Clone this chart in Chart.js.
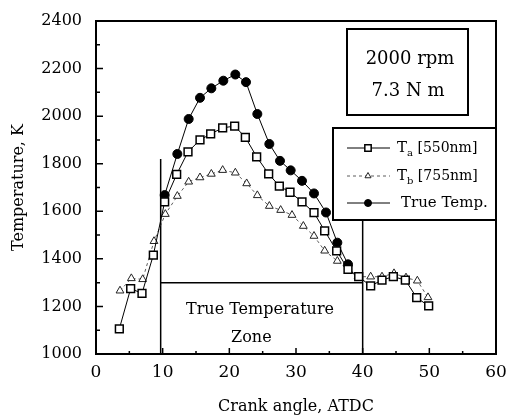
<!DOCTYPE html>
<html>
<head>
<meta charset="utf-8">
<script src="https://cdn.jsdelivr.net/npm/chart.js@4"></script>
<style>
  html, body { margin: 0; padding: 0; background: #fff; }
  #wrap { width: 507px; height: 419px; }
</style>
</head>
<body>
<div id="wrap"><canvas id="tempChart"></canvas></div>
<script>
// Crank angle (deg ATDC) and temperature (K)
const taAngle = [3.5, 5.2, 6.9, 8.6, 10.3, 12.1, 13.8, 15.6, 17.2, 19.0, 20.8, 22.4, 24.1, 25.9,
                 27.5, 29.1, 30.9, 32.7, 34.3, 36.1, 37.8, 39.4, 41.2, 42.9, 44.6, 46.4, 48.1, 49.9];
const taTemp = [1106, 1275, 1255, 1416, 1640, 1755, 1850, 1900, 1925, 1951, 1958, 1911, 1829, 1757,
                1706, 1680, 1640, 1594, 1518, 1434, 1356, 1325, 1286, 1311, 1325, 1311, 1237, 1202];

const tbAngle = [3.6, 5.3, 7.0, 8.7, 10.4, 12.2, 13.9, 15.6, 17.3, 19.0, 20.9, 22.6, 24.2, 26.0,
                 27.7, 29.4, 31.1, 32.7, 34.3, 36.2, 37.9, 39.3, 41.2, 42.9, 44.7, 46.5, 48.2, 49.8];
const tbTemp = [1266, 1318, 1314, 1474, 1588, 1664, 1724, 1742, 1757, 1773, 1762, 1717, 1667, 1622,
                1605, 1584, 1538, 1496, 1434, 1391, 1350, 1325, 1325, 1325, 1339, 1321, 1308, 1238];

const trueAngle = [10.3, 12.2, 13.9, 15.6, 17.3, 19.1, 20.9, 22.5, 24.2, 26.0, 27.6, 29.2, 30.9,
                   32.7, 34.5, 36.2, 37.8];
const trueTemp = [1668, 1841, 1988, 2077, 2117, 2149, 2175, 2143, 2009, 1883, 1812, 1772, 1728,
                  1675, 1595, 1468, 1377];

// true temperature zone limits
const zoneStart = 9.7;
const zoneEnd = 40;
const zoneTemp = 1300;

const serif = '"DejaVu Serif", "Liberation Serif", serif';

function pts(xs, ys) {
    return xs.map((x, i) => ({ x: x, y: ys[i] }));
}

const framePlugin = {
    id: "frame",
    beforeDatasetsDraw(chart) {
        const ctx = chart.ctx, xs = chart.scales.x, ys = chart.scales.y;
        const xl = xs.getPixelForValue(zoneStart), xr = xs.getPixelForValue(zoneEnd);
        const yb = ys.getPixelForValue(1000);
        ctx.save();
        ctx.strokeStyle = "#000";
        ctx.lineWidth = 1.5;
        ctx.beginPath();
        ctx.moveTo(xl, yb); ctx.lineTo(xl, ys.getPixelForValue(1820));
        ctx.moveTo(xr, yb); ctx.lineTo(xr, ys.getPixelForValue(1580));
        ctx.moveTo(xl, ys.getPixelForValue(zoneTemp)); ctx.lineTo(xr, ys.getPixelForValue(zoneTemp));
        ctx.stroke();
        ctx.fillStyle = "#000";
        ctx.font = "16px " + serif;
        ctx.textAlign = "center";
        ctx.textBaseline = "middle";
        ctx.fillText("True Temperature", xs.getPixelForValue(24.6), ys.getPixelForValue(1185));
        ctx.fillText("Zone", xs.getPixelForValue(23.3), ys.getPixelForValue(1067));
        ctx.restore();
    },
    afterDatasetsDraw(chart) {
        const ctx = chart.ctx, a = chart.chartArea, xs = chart.scales.x, ys = chart.scales.y;
        ctx.save();
        ctx.strokeStyle = "#000";
        ctx.fillStyle = "#000";

        // inward tick marks
        ctx.lineWidth = 1.5;
        ctx.beginPath();
        for (let v = 1000; v <= 2400; v += 100) {
            const y = ys.getPixelForValue(v);
            const len = v % 200 === 0 ? 7 : 4;
            ctx.moveTo(a.left, y); ctx.lineTo(a.left + len, y);
        }
        for (let v = 0; v <= 60; v += 5) {
            const x = xs.getPixelForValue(v);
            const len = v % 10 === 0 ? 6 : 3;
            ctx.moveTo(x, a.bottom); ctx.lineTo(x, a.bottom - len);
        }
        ctx.stroke();

        // plot frame
        ctx.lineWidth = 2;
        ctx.strokeRect(a.left, a.top, a.right - a.left, a.bottom - a.top);

        // operating condition box
        ctx.fillStyle = "#fff";
        ctx.fillRect(347, 29, 121, 86);
        ctx.strokeRect(347, 29, 121, 86);
        ctx.fillStyle = "#000";
        ctx.font = "18px " + serif;
        ctx.textAlign = "center";
        ctx.textBaseline = "middle";
        ctx.fillText("2000 rpm", 410, 59);
        ctx.fillText("7.3 N m", 408, 91);

        // legend box
        ctx.fillStyle = "#fff";
        ctx.fillRect(333, 128, a.right - 333, 92);
        ctx.strokeRect(333, 128, a.right - 333, 92);

        const rows = [
            { ds: chart.data.datasets[0], y: 148, main: "T", sub: "a", rest: " [550nm]" },
            { ds: chart.data.datasets[1], y: 176, main: "T", sub: "b", rest: " [755nm]" },
            { ds: chart.data.datasets[2], y: 203, main: "True Temp.", sub: "", rest: "" }
        ];
        rows.forEach(r => {
            ctx.save();
            ctx.strokeStyle = r.ds.borderColor;
            ctx.lineWidth = r.ds.borderWidth;
            ctx.setLineDash(r.ds.borderDash || []);
            ctx.beginPath();
            ctx.moveTo(347, r.y); ctx.lineTo(390, r.y);
            ctx.stroke();
            ctx.setLineDash([]);
            ctx.fillStyle = r.ds.pointBackgroundColor;
            ctx.strokeStyle = r.ds.pointBorderColor;
            ctx.lineWidth = r.ds.pointBorderWidth;
            Chart.helpers.drawPoint(ctx, {
                pointStyle: r.ds.pointStyle, radius: r.ds.pointRadius - 1,
                rotation: 0, borderWidth: r.ds.pointBorderWidth
            }, 368, r.y);
            ctx.restore();

            ctx.fillStyle = "#000";
            ctx.textAlign = "left";
            ctx.textBaseline = "middle";
            ctx.font = "15px " + serif;
            let x = r.sub ? 397 : 401;
            ctx.fillText(r.main, x, r.y);
            x += ctx.measureText(r.main).width;
            if (r.sub) {
                ctx.font = "10px " + serif;
                ctx.fillText(r.sub, x, r.y + 5);
                x += ctx.measureText(r.sub).width;
                ctx.font = "14px " + serif;
                ctx.fillText(r.rest, x, r.y);
            }
        });
        ctx.restore();
    }
};

const tempCanvas = document.getElementById("tempChart");

new Chart(tempCanvas, {
    type: "line",
    data: {
        datasets: [
            {
                label: "Ta [550nm]",
                data: pts(taAngle, taTemp),
                borderColor: "#000",
                borderWidth: 1,
                pointStyle: "rect",
                pointRadius: 5.5,
                pointBackgroundColor: "#fff",
                pointBorderColor: "#000",
                pointBorderWidth: 1.5,
                tension: 0,
                fill: false
            },
            {
                label: "Tb [755nm]",
                data: pts(tbAngle, tbTemp),
                borderColor: "#333",
                borderWidth: 0.8,
                borderDash: [3, 3],
                pointStyle: "triangle",
                pointRadius: 4.5,
                pointBackgroundColor: "#fff",
                pointBorderColor: "#222",
                pointBorderWidth: 1,
                tension: 0,
                fill: false
            },
            {
                label: "True Temp.",
                data: pts(trueAngle, trueTemp),
                borderColor: "#000",
                borderWidth: 1,
                pointStyle: "circle",
                pointRadius: 4.5,
                pointBackgroundColor: "#000",
                pointBorderColor: "#000",
                pointBorderWidth: 1,
                tension: 0,
                fill: false
            }
        ]
    },
    options: {
        responsive: true,
        maintainAspectRatio: false,
        animation: false,
        layout: { padding: { top: 21, right: 11, left: 0, bottom: 0 } },
        plugins: {
            legend: { display: false },
            tooltip: { enabled: false }
        },
        scales: {
            x: {
                type: "linear",
                min: 0,
                max: 60,
                ticks: { stepSize: 10, padding: 8, color: "#000", font: { family: serif, size: 17 } },
                grid: { display: false, drawTicks: false },
                border: { display: false },
                title: {
                    display: true,
                    text: "Crank angle, ATDC",
                    color: "#000",
                    font: { family: serif, size: 16 },
                    padding: { top: 0, bottom: 3 }
                },
                afterFit(scale) {
                    scale.height = 65;
                    scale.paddingLeft = 0;
                    scale.paddingRight = 0;
                }
            },
            y: {
                min: 1000,
                max: 2400,
                ticks: {
                    stepSize: 200, padding: 14, color: "#000",
                    font: { family: serif, size: 16 },
                    callback: v => String(v)
                },
                grid: { display: false, drawTicks: false },
                border: { display: false },
                title: {
                    display: true,
                    text: "Temperature, K",
                    color: "#000",
                    font: { family: serif, size: 16 },
                    padding: { top: 9, bottom: 0 }
                },
                afterFit(scale) {
                    scale.width = 96;
                    scale.paddingTop = 0;
                    scale.paddingBottom = 0;
                }
            }
        }
    },
    plugins: [framePlugin]
});
</script>
</body>
</html>
